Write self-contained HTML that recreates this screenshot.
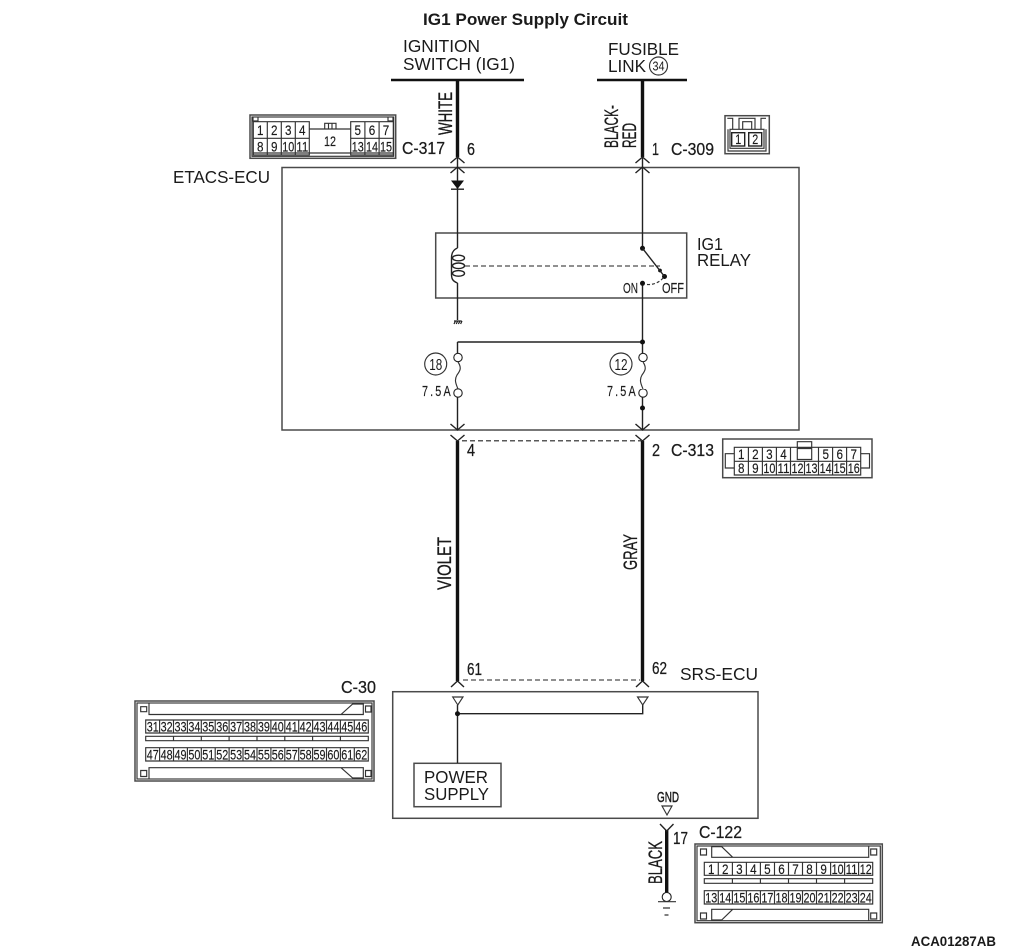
<!DOCTYPE html>
<html>
<head>
<meta charset="utf-8">
<title>IG1 Power Supply Circuit</title>
<style>
html,body{margin:0;padding:0;background:#fff;}
svg{display:block;}
text{font-family:"Liberation Sans",sans-serif;fill:#1a1a1a;}
.b{font-size:17px;font-weight:bold;}
.l{font-size:17.3px;}
.c{font-size:17.5px;stroke:#1a1a1a;stroke-width:.25;}
.n{font-size:14px;text-anchor:middle;stroke:#1a1a1a;stroke-width:.15;}
.s{font-size:15px;stroke:#1a1a1a;stroke-width:.15;}
.w{font-size:19px;stroke:#1a1a1a;stroke-width:.3;}
.t{fill:none;stroke:#222;stroke-width:1.4;}
.g{fill:none;stroke:#4a4a4a;stroke-width:1.5;}
.k{fill:none;stroke:#333;stroke-width:1.15;}
.thick{fill:none;stroke:#111;stroke-width:3.4;}
.d{fill:#111;stroke:none;}
.dash{fill:none;stroke:#222;stroke-width:1.1;stroke-dasharray:5 3;}
</style>
</head>
<body>
<svg width="1010" height="952" viewBox="0 0 1010 952" xmlns="http://www.w3.org/2000/svg">
<rect width="1010" height="952" fill="#fff"/>

<text class="b" x="423" y="25" textLength="205" lengthAdjust="spacingAndGlyphs">IG1 Power Supply Circuit</text>
<text class="l" x="403" y="52" textLength="77" lengthAdjust="spacingAndGlyphs">IGNITION</text>
<text class="l" x="403" y="70" textLength="112" lengthAdjust="spacingAndGlyphs">SWITCH (IG1)</text>
<text class="l" x="608" y="55" textLength="71" lengthAdjust="spacingAndGlyphs">FUSIBLE</text>
<text class="l" x="608" y="72" textLength="38" lengthAdjust="spacingAndGlyphs">LINK</text>
<circle cx="658.5" cy="66" r="9" class="k"/>
<text x="658.5" y="70.5" font-size="13" text-anchor="middle" textLength="12" lengthAdjust="spacingAndGlyphs">34</text>
<text class="l" x="173" y="183" textLength="97" lengthAdjust="spacingAndGlyphs">ETACS-ECU</text>
<text class="l" x="697" y="250" textLength="26" lengthAdjust="spacingAndGlyphs">IG1</text>
<text class="l" x="697" y="266" textLength="54" lengthAdjust="spacingAndGlyphs">RELAY</text>
<text class="l" x="680" y="680" textLength="78" lengthAdjust="spacingAndGlyphs">SRS-ECU</text>
<text class="l" x="424" y="783" textLength="64" lengthAdjust="spacingAndGlyphs">POWER</text>
<text class="l" x="424" y="800" textLength="65" lengthAdjust="spacingAndGlyphs">SUPPLY</text>

<!-- top bars and thick wires -->
<path d="M391 80H524M597 80H687" fill="none" stroke="#111" stroke-width="2.4"/>
<path class="thick" d="M457.5 80V157M642.5 80V157M457.5 441V681M642.5 441V681M666.7 830V893"/>

<!-- boxes -->
<rect x="282" y="167.5" width="517" height="262.5" class="g"/>
<rect x="435.7" y="233" width="251" height="65" class="g"/>
<rect x="392.7" y="691.7" width="365.3" height="126.6" class="g"/>
<rect x="414" y="763.3" width="87" height="43.4" class="g"/>

<!-- thin wires -->
<path class="t" d="M457.5 157V248M457.5 283V320M642.5 157V248M642.5 283V424M457.5 342H642.5M457.5 342V353M457.5 397V429M642.5 397V429M457.5 705V763M457.5 713.7H642.7V705"/>

<!-- chevrons -->
<path class="t" d="M450.5 163L457.5 157L464.5 163M450.5 173L457.5 167L464.5 173M635.5 163L642.5 157L649.5 163M635.5 173L642.5 167L649.5 173"/>
<path class="t" d="M450.5 424L457.5 430L464.5 424M450.5 435L457.5 441L464.5 435M635.5 424L642.5 430L649.5 424M635.5 435L642.5 441L649.5 435"/>
<path class="t" d="M451 687L457.5 681L464 687M636 687L642.5 681L649 687M660 824L666.7 831L673.5 824"/>

<!-- diode -->
<path class="d" d="M451 180.5H464L457.5 189Z"/>
<path class="t" d="M451 189.2H464"/>

<!-- coil -->
<path class="t" d="M457.5 248C452 250 451.5 255 451.5 258V274C451.5 278 452 281 457.5 283"/>
<ellipse cx="458.5" cy="258" rx="6" ry="2.8" class="t"/>
<ellipse cx="458.5" cy="265.8" rx="6" ry="2.8" class="t"/>
<ellipse cx="458.5" cy="273.4" rx="6" ry="2.8" class="t"/>
<path class="dash" d="M465 266H660"/>

<!-- ground -->
<path d="M454 321H461.7M454 324L455.5 321M456.2 324L457.7 321M458.4 324L459.9 321M460.6 324L462 321" fill="none" stroke="#222" stroke-width="1.2"/>

<!-- switch -->
<circle cx="642.5" cy="248.3" r="2.5" class="d"/>
<circle cx="642.5" cy="283.3" r="2.5" class="d"/>
<circle cx="664.5" cy="276.5" r="2.5" class="d"/>
<circle cx="660" cy="270.5" r="1.9" class="d"/>
<path class="t" d="M642.5 248.3L664.5 276.5"/>
<path class="k" stroke-dasharray="3 2" d="M647 284.5C654 285 660 282 664 277"/>
<text class="s" x="623" y="293" textLength="15" lengthAdjust="spacingAndGlyphs">ON</text>
<text class="s" x="662" y="293" textLength="22" lengthAdjust="spacingAndGlyphs">OFF</text>

<!-- junctions -->
<circle cx="642.5" cy="342" r="2.5" class="d"/>
<circle cx="642.5" cy="408" r="2.5" class="d"/>
<circle cx="457.5" cy="713.7" r="2.5" class="d"/>

<!-- fuses -->
<circle cx="458" cy="357.5" r="4.2" fill="#fff" stroke="#222" stroke-width="1.1"/>
<circle cx="458" cy="393" r="4.2" fill="#fff" stroke="#222" stroke-width="1.1"/>
<circle cx="643" cy="357.5" r="4.2" fill="#fff" stroke="#222" stroke-width="1.1"/>
<circle cx="643" cy="393" r="4.2" fill="#fff" stroke="#222" stroke-width="1.1"/>
<rect x="639" y="362" width="8" height="27" fill="#fff"/>
<path class="k" d="M458 362C462 368 460 371 457 375C454 380 456 384 458 389M643 362C647 368 645 371 642 375C639 380 641 384 643 389"/>
<circle cx="435.7" cy="364" r="11" class="k"/>
<text x="435.7" y="370" font-size="16" text-anchor="middle" textLength="13" lengthAdjust="spacingAndGlyphs">18</text>
<circle cx="621" cy="364" r="11" class="k"/>
<text x="621" y="370" font-size="16" text-anchor="middle" textLength="13" lengthAdjust="spacingAndGlyphs">12</text>
<text class="s" transform="translate(422 396) scale(.72 1)" letter-spacing="3">7.5A</text>
<text class="s" transform="translate(607 396) scale(.72 1)" letter-spacing="3">7.5A</text>

<!-- dashes between wires -->
<path class="dash" d="M462 440.8H641M463 680H640"/>

<!-- SRS triangles -->
<path class="k" d="M452.7 697H463L457.8 705ZM637.5 697H648L642.7 705ZM662 806H672L667 815Z"/>
<text class="s" x="657" y="802" textLength="22" lengthAdjust="spacingAndGlyphs" style="stroke-width:.45">GND</text>

<!-- wire labels -->
<text class="w" transform="translate(452 135) rotate(-90)" textLength="43" lengthAdjust="spacingAndGlyphs">WHITE</text>
<text class="w" transform="translate(618 148) rotate(-90)" textLength="43" lengthAdjust="spacingAndGlyphs">BLACK-</text>
<text class="w" transform="translate(636 148) rotate(-90)" textLength="25" lengthAdjust="spacingAndGlyphs">RED</text>
<text class="w" transform="translate(451 590) rotate(-90)" textLength="53" lengthAdjust="spacingAndGlyphs">VIOLET</text>
<text class="w" transform="translate(637 570) rotate(-90)" textLength="36" lengthAdjust="spacingAndGlyphs">GRAY</text>
<text class="w" transform="translate(662 884) rotate(-90)" textLength="43" lengthAdjust="spacingAndGlyphs">BLACK</text>

<!-- pin labels -->
<text class="c" x="467" y="155" textLength="8" lengthAdjust="spacingAndGlyphs">6</text>
<text class="c" x="652" y="155" textLength="7" lengthAdjust="spacingAndGlyphs">1</text>
<text class="c" x="467" y="456" textLength="8" lengthAdjust="spacingAndGlyphs">4</text>
<text class="c" x="652" y="456" textLength="8" lengthAdjust="spacingAndGlyphs">2</text>
<text class="c" x="467" y="675" textLength="15" lengthAdjust="spacingAndGlyphs">61</text>
<text class="c" x="652" y="674" textLength="15" lengthAdjust="spacingAndGlyphs">62</text>
<text class="c" x="673" y="844" textLength="15" lengthAdjust="spacingAndGlyphs">17</text>
<text class="c" x="402" y="154" textLength="43" lengthAdjust="spacingAndGlyphs">C-317</text>
<text class="c" x="671" y="155" textLength="43" lengthAdjust="spacingAndGlyphs">C-309</text>
<text class="c" x="671" y="456" textLength="43" lengthAdjust="spacingAndGlyphs">C-313</text>
<text class="c" x="341" y="693" textLength="35" lengthAdjust="spacingAndGlyphs">C-30</text>
<text class="c" x="699" y="838" textLength="43" lengthAdjust="spacingAndGlyphs">C-122</text>

<!-- ground symbol at 17 -->
<circle cx="666.7" cy="897" r="4.5" fill="#fff" stroke="#222" stroke-width="1.1"/>
<path class="k" d="M658 901.7H676M663 908H670M664.5 915H668.5"/>

<!-- C-317 -->
<rect x="250" y="115" width="145.7" height="43.3" class="g"/>
<rect x="252" y="117" width="141.7" height="39.3" class="k"/>
<path class="k" d="M253.3 121.7H309.3V155H253.3ZM253.3 138.3H309.3M267.3 121.7V155M281.3 121.7V155M295.3 121.7V155M350.7 121.7H393.3V155H350.7ZM350.7 138.3H393.3M364.9 121.7V155M379.1 121.7V155M309.3 129H350.7M253.3 153H393.3M324.7 129V123.3H336V129M328.5 123.3V129M332 123.3V129M253 117V121H258V117M393 117V121H388V117"/>
<text class="n" x="260.3" y="135" textLength="6.5" lengthAdjust="spacingAndGlyphs">1</text>
<text class="n" x="274.3" y="135" textLength="6.5" lengthAdjust="spacingAndGlyphs">2</text>
<text class="n" x="288.3" y="135" textLength="6.5" lengthAdjust="spacingAndGlyphs">3</text>
<text class="n" x="302.3" y="135" textLength="6.5" lengthAdjust="spacingAndGlyphs">4</text>
<text class="n" x="357.8" y="135" textLength="6.5" lengthAdjust="spacingAndGlyphs">5</text>
<text class="n" x="372" y="135" textLength="6.5" lengthAdjust="spacingAndGlyphs">6</text>
<text class="n" x="386" y="135" textLength="6.5" lengthAdjust="spacingAndGlyphs">7</text>
<text class="n" x="260.3" y="151.5" textLength="6.5" lengthAdjust="spacingAndGlyphs">8</text>
<text class="n" x="274.3" y="151.5" textLength="6.5" lengthAdjust="spacingAndGlyphs">9</text>
<text class="n" x="288.3" y="151.5" textLength="12" lengthAdjust="spacingAndGlyphs">10</text>
<text class="n" x="302.3" y="151.5" textLength="12" lengthAdjust="spacingAndGlyphs">11</text>
<text class="n" x="330" y="146" textLength="12" lengthAdjust="spacingAndGlyphs">12</text>
<text class="n" x="357.8" y="151.5" textLength="12" lengthAdjust="spacingAndGlyphs">13</text>
<text class="n" x="372" y="151.5" textLength="12" lengthAdjust="spacingAndGlyphs">14</text>
<text class="n" x="386" y="151.5" textLength="12" lengthAdjust="spacingAndGlyphs">15</text>

<!-- C-309 -->
<rect x="725" y="115.7" width="44.3" height="38" class="g"/>
<path class="k" d="M727.3 118.3H732.7V129.3M766 118.3H761V129.3M739 129.3V118.3H755V129.3M742.7 129.3V121.7H751.7V129.3M730 129.3H764V148.3H730ZM728 129.3V151H766V129.3"/>
<rect x="731.7" y="132.7" width="13" height="13.3" class="t"/>
<rect x="748.7" y="132.7" width="13" height="13.3" class="t"/>
<text class="n" x="738.2" y="144" textLength="6" lengthAdjust="spacingAndGlyphs">1</text>
<text class="n" x="755.2" y="144" textLength="6" lengthAdjust="spacingAndGlyphs">2</text>

<!-- C-313 -->
<rect x="722.7" y="439" width="149.3" height="38.7" class="g"/>
<path class="k" d="M734.3 447.3H860.7V475H734.3ZM734.3 461.3H860.7M748.4 447.3V475M762.4 447.3V475M776.4 447.3V475M790.5 447.3V475M804.5 461.3V475M818.5 447.3V475M832.6 447.3V475M846.6 447.3V475M734.3 453.7H725.3V468H734.3M860.7 453.7H869.5V468H860.7M797.3 447.3V441.7H811.7V447.3M797.3 448.5H811.7V459.5H797.3Z"/>
<text class="n" x="741.3" y="459" textLength="6.5" lengthAdjust="spacingAndGlyphs">1</text>
<text class="n" x="755.4" y="459" textLength="6.5" lengthAdjust="spacingAndGlyphs">2</text>
<text class="n" x="769.4" y="459" textLength="6.5" lengthAdjust="spacingAndGlyphs">3</text>
<text class="n" x="783.5" y="459" textLength="6.5" lengthAdjust="spacingAndGlyphs">4</text>
<text class="n" x="825.7" y="459" textLength="6.5" lengthAdjust="spacingAndGlyphs">5</text>
<text class="n" x="839.7" y="459" textLength="6.5" lengthAdjust="spacingAndGlyphs">6</text>
<text class="n" x="853.7" y="459" textLength="6.5" lengthAdjust="spacingAndGlyphs">7</text>
<text class="n" x="741.3" y="473.2" textLength="6.5" lengthAdjust="spacingAndGlyphs">8</text>
<text class="n" x="755.4" y="473.2" textLength="6.5" lengthAdjust="spacingAndGlyphs">9</text>
<text class="n" x="769.4" y="473.2" textLength="12" lengthAdjust="spacingAndGlyphs">10</text>
<text class="n" x="783.5" y="473.2" textLength="12" lengthAdjust="spacingAndGlyphs">11</text>
<text class="n" x="797.5" y="473.2" textLength="12" lengthAdjust="spacingAndGlyphs">12</text>
<text class="n" x="811.5" y="473.2" textLength="12" lengthAdjust="spacingAndGlyphs">13</text>
<text class="n" x="825.6" y="473.2" textLength="12" lengthAdjust="spacingAndGlyphs">14</text>
<text class="n" x="839.6" y="473.2" textLength="12" lengthAdjust="spacingAndGlyphs">15</text>
<text class="n" x="853.7" y="473.2" textLength="12" lengthAdjust="spacingAndGlyphs">16</text>

<!-- C-30 -->
<rect x="135" y="701" width="239" height="80" class="g"/>
<rect x="137" y="703" width="235" height="76" class="k"/>
<path class="k" d="M140.7 706.7H146.7V711.7H140.7ZM140.7 770.5H146.7V776.5H140.7ZM365.5 706H371V712H365.5ZM365.5 770.5H371V776.5H365.5ZM149 703V714.5H363.3V704H352.7L341 714.5M149 779V767.7H363.3V778H352.7L341 767.7M145.7 720H368.3V733H145.7ZM145.7 736.3H368.3V740.7H145.7ZM145.7 747.7H368.3V761H145.7ZM173.5 736.3V740.7M201.3 736.3V740.7M229.1 736.3V740.7M257 736.3V740.7M284.8 736.3V740.7M312.6 736.3V740.7M340.4 736.3V740.7"/>
<path class="k" d="M159.6 720V733M173.5 720V733M187.4 720V733M201.3 720V733M215.2 720V733M229.1 720V733M243 720V733M257 720V733M270.9 720V733M284.8 720V733M298.7 720V733M312.6 720V733M326.5 720V733M340.4 720V733M354.3 720V733M159.6 747.7V761M173.5 747.7V761M187.4 747.7V761M201.3 747.7V761M215.2 747.7V761M229.1 747.7V761M243 747.7V761M257 747.7V761M270.9 747.7V761M284.8 747.7V761M298.7 747.7V761M312.6 747.7V761M326.5 747.7V761M340.4 747.7V761M354.3 747.7V761"/>
<text class="n" x="152.7" y="731.5" textLength="12" lengthAdjust="spacingAndGlyphs">31</text>
<text class="n" x="166.6" y="731.5" textLength="12" lengthAdjust="spacingAndGlyphs">32</text>
<text class="n" x="180.5" y="731.5" textLength="12" lengthAdjust="spacingAndGlyphs">33</text>
<text class="n" x="194.4" y="731.5" textLength="12" lengthAdjust="spacingAndGlyphs">34</text>
<text class="n" x="208.3" y="731.5" textLength="12" lengthAdjust="spacingAndGlyphs">35</text>
<text class="n" x="222.2" y="731.5" textLength="12" lengthAdjust="spacingAndGlyphs">36</text>
<text class="n" x="236.1" y="731.5" textLength="12" lengthAdjust="spacingAndGlyphs">37</text>
<text class="n" x="250" y="731.5" textLength="12" lengthAdjust="spacingAndGlyphs">38</text>
<text class="n" x="263.9" y="731.5" textLength="12" lengthAdjust="spacingAndGlyphs">39</text>
<text class="n" x="277.8" y="731.5" textLength="12" lengthAdjust="spacingAndGlyphs">40</text>
<text class="n" x="291.7" y="731.5" textLength="12" lengthAdjust="spacingAndGlyphs">41</text>
<text class="n" x="305.6" y="731.5" textLength="12" lengthAdjust="spacingAndGlyphs">42</text>
<text class="n" x="319.5" y="731.5" textLength="12" lengthAdjust="spacingAndGlyphs">43</text>
<text class="n" x="333.4" y="731.5" textLength="12" lengthAdjust="spacingAndGlyphs">44</text>
<text class="n" x="347.3" y="731.5" textLength="12" lengthAdjust="spacingAndGlyphs">45</text>
<text class="n" x="361.2" y="731.5" textLength="12" lengthAdjust="spacingAndGlyphs">46</text>
<text class="n" x="152.7" y="759.5" textLength="12" lengthAdjust="spacingAndGlyphs">47</text>
<text class="n" x="166.6" y="759.5" textLength="12" lengthAdjust="spacingAndGlyphs">48</text>
<text class="n" x="180.5" y="759.5" textLength="12" lengthAdjust="spacingAndGlyphs">49</text>
<text class="n" x="194.4" y="759.5" textLength="12" lengthAdjust="spacingAndGlyphs">50</text>
<text class="n" x="208.3" y="759.5" textLength="12" lengthAdjust="spacingAndGlyphs">51</text>
<text class="n" x="222.2" y="759.5" textLength="12" lengthAdjust="spacingAndGlyphs">52</text>
<text class="n" x="236.1" y="759.5" textLength="12" lengthAdjust="spacingAndGlyphs">53</text>
<text class="n" x="250" y="759.5" textLength="12" lengthAdjust="spacingAndGlyphs">54</text>
<text class="n" x="263.9" y="759.5" textLength="12" lengthAdjust="spacingAndGlyphs">55</text>
<text class="n" x="277.8" y="759.5" textLength="12" lengthAdjust="spacingAndGlyphs">56</text>
<text class="n" x="291.7" y="759.5" textLength="12" lengthAdjust="spacingAndGlyphs">57</text>
<text class="n" x="305.6" y="759.5" textLength="12" lengthAdjust="spacingAndGlyphs">58</text>
<text class="n" x="319.5" y="759.5" textLength="12" lengthAdjust="spacingAndGlyphs">59</text>
<text class="n" x="333.4" y="759.5" textLength="12" lengthAdjust="spacingAndGlyphs">60</text>
<text class="n" x="347.3" y="759.5" textLength="12" lengthAdjust="spacingAndGlyphs">61</text>
<text class="n" x="361.2" y="759.5" textLength="12" lengthAdjust="spacingAndGlyphs">62</text>

<!-- C-122 -->
<rect x="695" y="844" width="187.3" height="78.7" class="g"/>
<rect x="697" y="846" width="183.3" height="74.7" class="k"/>
<path class="k" d="M700.5 849H706.5V855H700.5ZM700.5 913H706.5V919H700.5ZM870.7 849H876.7V855H870.7ZM870.7 913H876.7V919H870.7ZM711.7 846V857.3H868.7V846M721.7 846.7H711.7M721.7 846.7L732.7 857.3M711.7 920.7V909.3H868.7V920.7M721.7 920H711.7M721.7 920L732.7 909.3M704.3 862.3H872.7V875.3H704.3ZM704.3 878.7H872.7V883.3H704.3ZM704.3 890.7H872.7V904H704.3ZM732.4 878.7V883.3M760.4 878.7V883.3M788.5 878.7V883.3M816.5 878.7V883.3M844.6 878.7V883.3"/>
<path class="k" d="M718.3 862.3V875.3M732.4 862.3V875.3M746.4 862.3V875.3M760.4 862.3V875.3M774.5 862.3V875.3M788.5 862.3V875.3M802.5 862.3V875.3M816.5 862.3V875.3M830.6 862.3V875.3M844.6 862.3V875.3M858.6 862.3V875.3M718.3 890.7V904M732.4 890.7V904M746.4 890.7V904M760.4 890.7V904M774.5 890.7V904M788.5 890.7V904M802.5 890.7V904M816.5 890.7V904M830.6 890.7V904M844.6 890.7V904M858.6 890.7V904"/>
<text class="n" x="711.3" y="874" textLength="6.5" lengthAdjust="spacingAndGlyphs">1</text>
<text class="n" x="725.3" y="874" textLength="6.5" lengthAdjust="spacingAndGlyphs">2</text>
<text class="n" x="739.4" y="874" textLength="6.5" lengthAdjust="spacingAndGlyphs">3</text>
<text class="n" x="753.4" y="874" textLength="6.5" lengthAdjust="spacingAndGlyphs">4</text>
<text class="n" x="767.4" y="874" textLength="6.5" lengthAdjust="spacingAndGlyphs">5</text>
<text class="n" x="781.5" y="874" textLength="6.5" lengthAdjust="spacingAndGlyphs">6</text>
<text class="n" x="795.5" y="874" textLength="6.5" lengthAdjust="spacingAndGlyphs">7</text>
<text class="n" x="809.5" y="874" textLength="6.5" lengthAdjust="spacingAndGlyphs">8</text>
<text class="n" x="823.6" y="874" textLength="6.5" lengthAdjust="spacingAndGlyphs">9</text>
<text class="n" x="837.6" y="874" textLength="12" lengthAdjust="spacingAndGlyphs">10</text>
<text class="n" x="851.6" y="874" textLength="12" lengthAdjust="spacingAndGlyphs">11</text>
<text class="n" x="865.7" y="874" textLength="12" lengthAdjust="spacingAndGlyphs">12</text>
<text class="n" x="711.3" y="902.5" textLength="12" lengthAdjust="spacingAndGlyphs">13</text>
<text class="n" x="725.3" y="902.5" textLength="12" lengthAdjust="spacingAndGlyphs">14</text>
<text class="n" x="739.4" y="902.5" textLength="12" lengthAdjust="spacingAndGlyphs">15</text>
<text class="n" x="753.4" y="902.5" textLength="12" lengthAdjust="spacingAndGlyphs">16</text>
<text class="n" x="767.4" y="902.5" textLength="12" lengthAdjust="spacingAndGlyphs">17</text>
<text class="n" x="781.5" y="902.5" textLength="12" lengthAdjust="spacingAndGlyphs">18</text>
<text class="n" x="795.5" y="902.5" textLength="12" lengthAdjust="spacingAndGlyphs">19</text>
<text class="n" x="809.5" y="902.5" textLength="12" lengthAdjust="spacingAndGlyphs">20</text>
<text class="n" x="823.6" y="902.5" textLength="12" lengthAdjust="spacingAndGlyphs">21</text>
<text class="n" x="837.6" y="902.5" textLength="12" lengthAdjust="spacingAndGlyphs">22</text>
<text class="n" x="851.6" y="902.5" textLength="12" lengthAdjust="spacingAndGlyphs">23</text>
<text class="n" x="865.7" y="902.5" textLength="12" lengthAdjust="spacingAndGlyphs">24</text>

<text x="911" y="946" font-size="14" font-weight="bold" textLength="85" lengthAdjust="spacingAndGlyphs">ACA01287AB</text>
</svg>
</body>
</html>
